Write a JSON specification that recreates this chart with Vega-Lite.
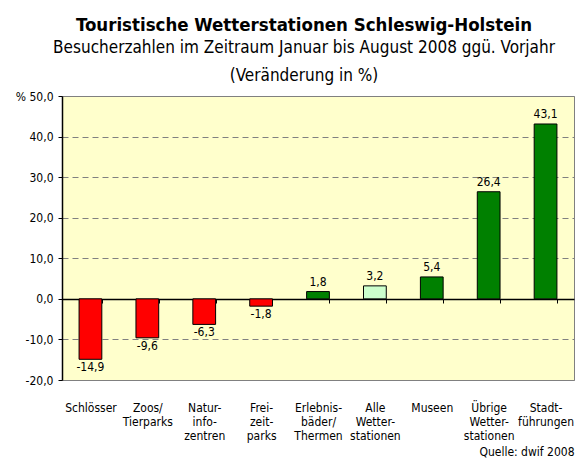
{
  "$schema": "https://vega.github.io/schema/vega-lite/v6.json",
  "width": 512,
  "height": 284,
  "autosize": "none",
  "padding": {"left": 62, "top": 96, "right": 3, "bottom": 79},
  "background": "white",
  "config": {
    "locale": {"number": {"decimal": ",", "thousands": ".", "grouping": [3], "currency": ["", " €"], "minus": "-"}},
    "font": "DejaVu Sans Condensed",
    "view": {"fill": "#FFFFCC", "stroke": "#808080"}
  },
  "title": {
    "text": "Touristische Wetterstationen Schleswig-Holstein",
    "subtitle": ["Besucherzahlen im Zeitraum Januar bis August 2008 ggü. Vorjahr", "(Veränderung in %)"],
    "font": "DejaVu Sans Condensed",
    "fontSize": 18.5,
    "fontWeight": "bold",
    "color": "black",
    "subtitleFont": "DejaVu Sans Condensed",
    "subtitleFontSize": 17,
    "subtitleColor": "black",
    "subtitleLineHeight": 28,
    "subtitlePadding": 6,
    "anchor": "middle",
    "dx": -14,
    "offset": 6
  },
  "data": {"values": [
    {"category": "Schlösser", "value": -14.9, "group": "neg"},
    {"category": "Zoos/|Tierparks", "value": -9.6, "group": "neg"},
    {"category": "Natur-|info-|zentren", "value": -6.3, "group": "neg"},
    {"category": "Frei-|zeit-|parks", "value": -1.8, "group": "neg"},
    {"category": "Erlebnis-|bäder/|Thermen", "value": 1.8, "group": "pos"},
    {"category": "Alle|Wetter-|stationen", "value": 3.2, "group": "total"},
    {"category": "Museen", "value": 5.4, "group": "pos"},
    {"category": "Übrige|Wetter-|stationen", "value": 26.4, "group": "pos"},
    {"category": "Stadt-|führungen", "value": 43.1, "group": "pos"}
  ]},
  "encoding": {
    "x": {
      "field": "category",
      "type": "nominal",
      "sort": null,
      "scale": {"paddingInner": 0.6, "paddingOuter": 0.3},
      "axis": {
        "title": "Quelle: dwif 2008",
        "titleFont": "DejaVu Sans Condensed",
        "titleFontSize": 12,
        "titleFontWeight": "normal",
        "titleColor": "black",
        "titleAnchor": "end",
        "titleAlign": "right",
        "titlePadding": 5,
        "labelAngle": 0,
        "labelExpr": "split(datum.label, '|')",
        "labelFont": "DejaVu Sans Condensed",
        "labelFontSize": 12,
        "labelColor": "black",
        "labelLineHeight": 14,
        "labelPadding": 99,
        "offset": -81,
        "tickBand": "extent",
        "tickSize": 4,
        "tickColor": "black",
        "domainColor": "black",
        "domainWidth": 1.5
      }
    },
    "y": {
      "field": "value",
      "type": "quantitative",
      "scale": {"domain": [-20, 50], "nice": false},
      "axis": {
        "title": null,
        "values": [-20, -10, 0, 10, 20, 30, 40, 50],
        "format": ".1f",
        "labelExpr": "datum.value == 50 ? '% ' + datum.label : datum.label",
        "labelFont": "DejaVu Sans Condensed",
        "labelFontSize": 12,
        "labelColor": "black",
        "labelPadding": 5,
        "tickColor": "black",
        "tickSize": 4,
        "domainColor": "black",
        "domainWidth": 1.5,
        "grid": true,
        "gridColor": "#808080",
        "gridDash": [6, 4]
      }
    }
  },
  "layer": [
    {
      "mark": {"type": "bar", "stroke": "black", "strokeWidth": 1},
      "encoding": {
        "color": {
          "field": "group",
          "type": "nominal",
          "scale": {"domain": ["neg", "pos", "total"], "range": ["#FF0000", "#008000", "#CCFFCC"]},
          "legend": null
        }
      }
    },
    {
      "transform": [{"filter": "datum.value >= 0"}],
      "mark": {"type": "text", "baseline": "bottom", "dy": -3, "font": "DejaVu Sans Condensed", "fontSize": 12, "color": "black"},
      "encoding": {"text": {"field": "value", "type": "quantitative", "format": ".1f"}}
    },
    {
      "transform": [{"filter": "datum.value < 0"}],
      "mark": {"type": "text", "baseline": "top", "dy": 3, "font": "DejaVu Sans Condensed", "fontSize": 12, "color": "black"},
      "encoding": {"text": {"field": "value", "type": "quantitative", "format": ".1f"}}
    }
  ]
}
